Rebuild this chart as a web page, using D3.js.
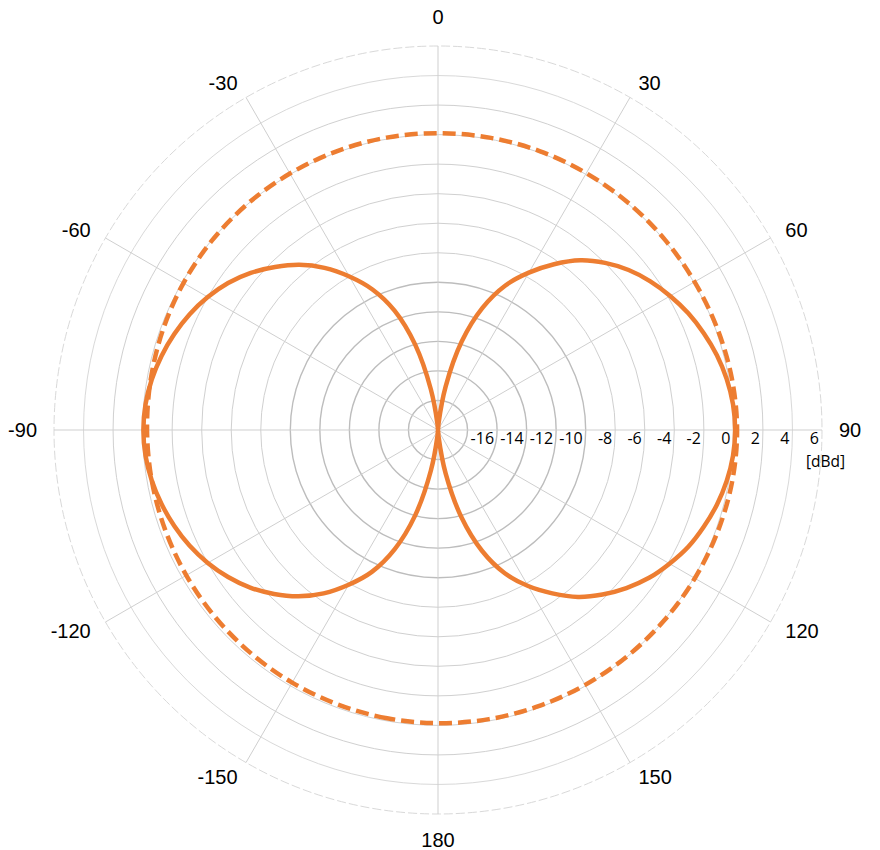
<!DOCTYPE html>
<html>
<head>
<meta charset="utf-8">
<script src="https://cdn.jsdelivr.net/npm/d3@7"></script>
<style>
  html, body { margin: 0; padding: 0; background: #fff; }
  svg { display: block; }
</style>
</head>
<body>
<div id="chart"></div>
<script>
// radial scale ticks (dBd)
const ringValues = [-18, -16, -14, -12, -10, -8, -6, -4, -2, 0, 2, 4, 6];
const ringLabels = [-16, -14, -12, -10, -8, -6, -4, -2, 0, 2, 4, 6];
// angle spokes and their labels
const spokeAngles = [0, 30, 60, 90, 120, 150, 180, 210, 240, 270, 300, 330];
const spokeLabels = ['0', '30', '60', '90', '120', '150', '180', '-150', '-120', '-90', '-60', '-30'];

// solid series: figure-eight pattern, every 5 deg
const solidAngles = [
  -180, -175, -170, -165, -160, -155, -150, -145, -140, -135, -130, -125,
  -120, -115, -110, -105, -100, -95, -90, -85, -80, -75, -70, -65,
  -60, -55, -50, -45, -40, -35, -30, -25, -20, -15, -10, -5,
  0, 5, 10, 15, 20, 25, 30, 35, 40, 45, 50, 55,
  60, 65, 70, 75, 80, 85, 90, 95, 100, 105, 110, 115,
  120, 125, 130, 135, 140, 145, 150, 155, 160, 165, 170, 175
];
const solidValues = [
  -20, -19.6, -17.2, -14, -11.4, -9.4, -7.9, -6.5, -5.3, -4.3, -3.4, -2.65,
  -2.0, -1.45, -1.0, -0.62, -0.32, -0.12, -0.05, -0.12, -0.32, -0.62, -1.0, -1.45,
  -2.0, -2.65, -3.45, -4.4, -5.4, -6.6, -8.0, -9.5, -11.4, -14, -17.2, -19.6,
  -20, -19.5, -17, -13.8, -11.2, -9.2, -7.7, -6.3, -5.0, -4.0, -3.15, -2.45,
  -1.85, -1.3, -0.85, -0.45, -0.15, 0.05, 0.12, 0.05, -0.15, -0.45, -0.85, -1.3,
  -1.9, -2.55, -3.35, -4.25, -5.25, -6.5, -7.8, -9.3, -11.3, -13.9, -17, -19.5
];

// dashed series: near-omni pattern, every 10 deg
const dashedAngles = [
  -180, -170, -160, -150, -140, -130, -120, -110, -100, -90, -80, -70,
  -60, -50, -40, -30, -20, -10, 0, 10, 20, 30, 40, 50,
  60, 70, 80, 90, 100, 110, 120, 130, 140, 150, 160, 170
];
const dashedValues = [
  -0.15, -0.18, -0.22, -0.25, -0.28, -0.3, -0.32, -0.33, -0.32, -0.3, -0.25, -0.18,
  -0.1, -0.03, 0.02, 0.05, 0.08, 0.1, 0.1, 0.1, 0.1, 0.08, 0.06, 0.05,
  0.06, 0.12, 0.2, 0.25, 0.22, 0.15, 0.08, 0.02, -0.03, -0.07, -0.1, -0.12
];

const width = 880, height = 850;
const cx = 438, cy = 430;
const outer = 384;
const labelR = 401;
const orange = '#ED7D31';

const svg = d3.select('#chart').append('svg')
  .attr('width', width)
  .attr('height', height);

const g = svg.append('g').attr('transform', `translate(${cx},${cy})`);

const r = d3.scaleLinear().domain([-20, 6]).range([0, outer]);
const rad = a => a * Math.PI / 180;

// rings
g.selectAll('circle.ring')
  .data(ringValues)
  .join('circle')
  .attr('class', 'ring')
  .attr('r', d => r(d))
  .attr('fill', 'none')
  .attr('stroke', d => d <= -10 ? '#bdbdbd' : (d >= 4 ? '#d9d9d9' : '#d0d0d0'))
  .attr('stroke-width', d => d <= -10 ? 1.4 : 1)
  .attr('stroke-dasharray', d => d === 6 ? '9,3' : null);

// spokes
g.selectAll('line.spoke')
  .data(spokeAngles)
  .join('line')
  .attr('class', 'spoke')
  .attr('x1', 0).attr('y1', 0)
  .attr('x2', d => outer * Math.sin(rad(d)))
  .attr('y2', d => -outer * Math.cos(rad(d)))
  .attr('stroke', '#cfcfcf')
  .attr('stroke-width', 1);

// angle labels, anchored outside the circle like Excel does
g.selectAll('text.angle')
  .data(spokeAngles)
  .join('text')
  .attr('class', 'angle')
  .attr('x', d => labelR * Math.sin(rad(d)))
  .attr('y', d => {
    const y = -labelR * Math.cos(rad(d));
    if (d === 0) return y - 5;
    if (d === 180) return y + 16;
    return y + 7;
  })
  .attr('text-anchor', d => d === 0 || d === 180 ? 'middle' : (d < 180 ? 'start' : 'end'))
  .attr('font-family', '"Liberation Sans", Arial, sans-serif')
  .attr('font-size', 20)
  .attr('fill', '#000')
  .text((d, i) => spokeLabels[i]);

// radial tick labels
g.selectAll('text.tick')
  .data(ringLabels)
  .join('text')
  .attr('class', 'tick')
  .attr('x', d => r(d) - 3)
  .attr('y', 14)
  .attr('text-anchor', 'end')
  .attr('font-family', '"Open Sans", sans-serif')
  .attr('font-size', 16)
  .attr('fill', '#000')
  .text(d => d);

g.append('text')
  .attr('x', 368)
  .attr('y', 37)
  .attr('font-family', '"Open Sans", sans-serif')
  .attr('font-size', 15.5)
  .attr('fill', '#000')
  .text('[dBd]');

// series
const radial = d3.lineRadial()
  .angle(d => rad(d[0]))
  .radius(d => r(Math.max(-20, d[1])))
  .curve(d3.curveCatmullRomClosed.alpha(0.5));

g.append('path')
  .datum(dashedAngles.map((a, i) => [a, dashedValues[i]]))
  .attr('d', radial)
  .attr('fill', 'none')
  .attr('stroke', orange)
  .attr('stroke-width', 4.5)
  .attr('stroke-dasharray', '13,6');

g.append('path')
  .datum(solidAngles.map((a, i) => [a, solidValues[i]]))
  .attr('d', radial)
  .attr('fill', 'none')
  .attr('stroke', orange)
  .attr('stroke-width', 4.5)
  .attr('stroke-linejoin', 'round');
</script>
</body>
</html>
